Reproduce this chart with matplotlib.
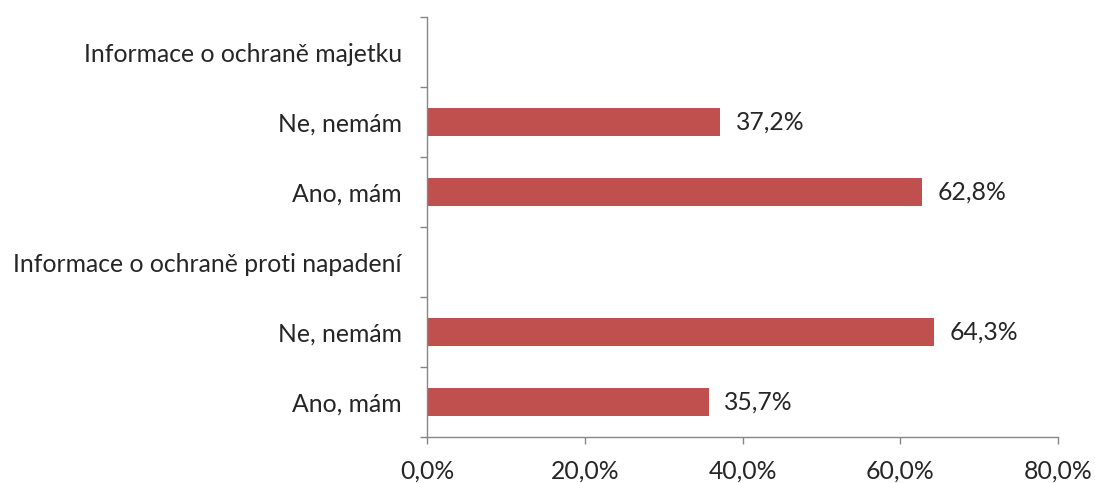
import matplotlib
matplotlib.use("Agg")
import matplotlib.pyplot as plt
from matplotlib.ticker import FixedLocator, FuncFormatter

plt.rcParams['font.family'] = ['Lato', 'DejaVu Sans']

# Kategorien von oben nach unten
categories = ["Informace o ochraně majetku", "Ne, nemám", "Ano, mám",
              "Informace o ochraně proti napadení", "Ne, nemám", "Ano, mám"]
values = [None, 37.2, 62.8, None, 64.3, 35.7]
x_ticks = [0, 20, 40, 60, 80]

bar_color = '#C0504D'
axis_color = '#868686'
text_color = '#262626'
fs = 17.8

fig = plt.figure(figsize=(10.95, 4.83), dpi=100)
ax = fig.add_axes([0.38995, 0.0952, 0.5763, 0.8696])

n = len(categories)
ypos = list(range(n - 1, -1, -1))
for y, v in zip(ypos, values):
    if v is None:
        continue
    ax.barh(y, v, height=0.4, color=bar_color)
    ax.annotate(f"{v:.1f}%".replace('.', ','), xy=(v, y), xytext=(11, 0),
                textcoords='offset points', va='center', ha='left',
                fontsize=fs, color=text_color)

ax.set_xlim(0, 80)
ax.set_ylim(-0.5, n - 0.5)

ax.xaxis.set_major_locator(FixedLocator(x_ticks))
ax.xaxis.set_major_formatter(FuncFormatter(lambda x, p: f"{x:.1f}%".replace('.', ',')))

# Kategorienbeschriftung zentriert, Striche an den Grenzen
ax.set_yticks(ypos)
ax.set_yticklabels(categories)
ax.set_yticks([i - 0.5 for i in range(n + 1)], minor=True)
ax.tick_params(axis='y', which='major', length=0, pad=18, labelsize=fs, labelcolor=text_color)
ax.tick_params(axis='y', which='minor', length=5, color=axis_color, width=1)
ax.tick_params(axis='x', length=5, color=axis_color, width=1, pad=11,
               labelsize=fs, labelcolor=text_color)

for side in ['top', 'right']:
    ax.spines[side].set_visible(False)
for side in ['left', 'bottom']:
    ax.spines[side].set_color(axis_color)
    ax.spines[side].set_linewidth(1)

fig.savefig('out.png', dpi=100)
